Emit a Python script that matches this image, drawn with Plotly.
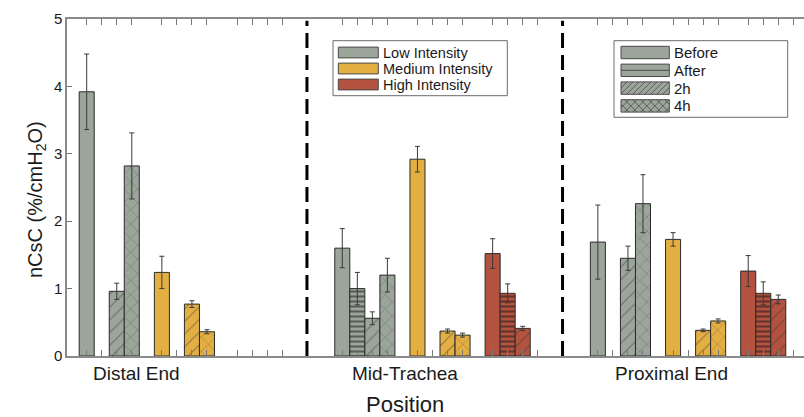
import plotly.graph_objects as go

# ---------------- data ----------------
positions = ["Distal End", "Mid-Trachea", "Proximal End"]
intensities = ["Low Intensity", "Medium Intensity", "High Intensity"]
times = ["Before", "After", "2h", "4h"]

# values[position][time]
low_vals = [[3.92, None, 0.96, 2.82], [1.60, 1.00, 0.56, 1.20], [1.69, None, 1.45, 2.26]]
low_err = [[0.56, None, 0.12, 0.49], [0.29, 0.24, 0.095, 0.25], [0.55, None, 0.18, 0.43]]
med_vals = [[1.24, None, 0.77, 0.36], [2.92, None, 0.37, 0.31], [1.73, None, 0.38, 0.52]]
med_err = [[0.24, None, 0.05, 0.03], [0.19, None, 0.03, 0.03], [0.10, None, 0.02, 0.03]]
high_vals = [[None, None, None, None], [1.52, 0.93, 0.41, None], [1.26, 0.93, 0.84, None]]
high_err = [[None, None, None, None], [0.22, 0.14, 0.03, None], [0.23, 0.17, 0.065, None]]

y_ticks = [0, 1, 2, 3, 4, 5]

# ---------------- style ----------------
FONT = "Liberation Sans, Arial, Helvetica, sans-serif"
TXT = "#1a1a1a"
colors = ["#9ba59a", "#e3af43", "#b2523f"]
patterns = [
    dict(shape=""),
    dict(shape="-", size=5, solidity=0.42, fgcolor="#151515"),
    dict(shape="/", size=9, solidity=0.11, fgcolor="#333333"),
    dict(shape="x", size=10, solidity=0.09, fgcolor="#333333"),
]
GROUP_STRIDE = 17   # slots per position group
INT_STRIDE = 5      # slots per intensity group (4 bars + 1 gap)

W, H = 804, 417
ML, MR, MT, MB = 67, 0, 19, 61
PW, PH = W - ML - MR, H - MT - MB

def px(x):
    return (x - ML) / PW

def py(y):
    return (H - MB - y) / PH

all_vals = [low_vals, med_vals, high_vals]
all_errs = [low_err, med_err, high_err]

fig = go.Figure()
for i, name in enumerate(intensities):
    for t, tname in enumerate(times):
        xs = [p * GROUP_STRIDE + i * INT_STRIDE + t for p in range(len(positions))]
        ys = [all_vals[i][p][t] for p in range(len(positions))]
        es = [all_errs[i][p][t] for p in range(len(positions))]
        fig.add_trace(go.Bar(
            x=xs, y=ys, width=1.0,
            name=f"{name} {tname}", showlegend=False,
            marker=dict(color=colors[i], line=dict(color="#2b2b2b", width=1),
                        pattern=patterns[t]),
            error_y=dict(type="data", array=es, visible=True, color="#3a3a3a",
                         thickness=1, width=2.5),
        ))

slot_ticks = [p * GROUP_STRIDE + i * INT_STRIDE + t
              for p in range(len(positions)) for i in range(3) for t in range(4)]

fig.update_layout(
    width=W, height=H,
    margin=dict(l=ML, r=MR, t=MT, b=MB),
    paper_bgcolor="white", plot_bgcolor="white",
    barmode="overlay",
    font=dict(family=FONT, color=TXT),
    showlegend=False,
    xaxis=dict(range=[-1.31, 47.71], tickvals=slot_ticks, showticklabels=False,
               ticks="inside", ticklen=6, tickcolor="#7a7a7a", tickwidth=1,
               showline=True, linecolor="#8a8a8a", linewidth=1.5, mirror="ticks",
               showgrid=False, zeroline=False),
    yaxis=dict(range=[0, 5], tickvals=y_ticks, ticktext=[str(v) for v in y_ticks],
               ticks="inside", ticklen=5, tickcolor="#7a7a7a",
               showline=True, linecolor="#8a8a8a", linewidth=1.5, mirror=False,
               showgrid=False, zeroline=False,
               tickfont=dict(size=15, family=FONT, color=TXT)),
)

# separators between positions
for p in range(1, len(positions)):
    xs = p * GROUP_STRIDE - 2.35
    fig.add_shape(type="line", xref="x", yref="paper", x0=xs, x1=xs, y0=0, y1=0.995,
                  line=dict(color="black", width=3, dash="15px,7px"))

# category labels and axis titles
label_x = [3.31, 21.16, 38.9]
for lx, lab in zip(label_x, positions):
    fig.add_annotation(x=lx, y=py(373), xref="x", yref="paper", text=lab,
                       xanchor="center", yanchor="middle",
                       showarrow=False, font=dict(size=19, family=FONT, color=TXT))
fig.add_annotation(x=label_x[1], y=py(404), xref="x", yref="paper", text="Position",
                   xanchor="center", yanchor="middle",
                   showarrow=False, font=dict(size=22, family=FONT, color=TXT))
fig.add_annotation(x=px(36), y=py(200), xref="paper", yref="paper",
                   text="nCsC (%/cmH<sub>2</sub>O)", textangle=-90,
                   xanchor="center", yanchor="middle",
                   showarrow=False, font=dict(size=20, family=FONT, color=TXT))

# ---------------- manual legends ----------------
def hatch_path(x0, y0, x1, y1, step, kind):
    w, h = x1 - x0, y1 - y0
    segs = []
    d = -h
    while d < w:
        lo, hi = max(0, -d), min(h, w - d)
        if hi > lo:
            if kind in ("/", "x"):
                segs.append(((x0 + d + lo, y1 - lo), (x0 + d + hi, y1 - hi)))
            if kind in ("\\", "x"):
                segs.append(((x0 + d + lo, y0 + lo), (x0 + d + hi, y0 + hi)))
        d += step
    return " ".join(f"M{px(a[0]):.5f},{py(a[1]):.5f} L{px(b[0]):.5f},{py(b[1]):.5f}"
                    for a, b in segs)

def rect(x0, y0, x1, y1, fill, line_color, lw):
    fig.add_shape(type="rect", xref="paper", yref="paper",
                  x0=px(x0), x1=px(x1), y0=py(y1), y1=py(y0),
                  fillcolor=fill, line=dict(color=line_color, width=lw))

def legend_text(x, y, text, size=15):
    fig.add_annotation(x=px(x), y=py(y), xref="paper", yref="paper", text=text,
                       showarrow=False, xanchor="left", yanchor="middle",
                       borderpad=0,
                       font=dict(size=size, family=FONT, color=TXT))

# intensity legend
rect(333, 40.7, 507.3, 95.7, "white", "#6a6a6a", 1)
for k, (name, c) in enumerate(zip(intensities, colors)):
    cy = 52.5 + 16 * k
    rect(338.3, cy - 5.4, 378.3, cy + 5.4, c, "#4a4a4a", 1)
    legend_text(381.5, cy, name, size=14.5)

# time legend
rect(614, 40.7, 787.7, 117.3, "white", "#6a6a6a", 1)
for k, tname in enumerate(times):
    cy = 52.5 + 17.8 * k
    x0, x1, y0, y1 = 621, 669.3, cy - 6.2, cy + 6.2
    rect(x0, y0, x1, y1, colors[0], "#4a4a4a", 1)
    if tname == "After":
        fig.add_shape(type="line", xref="paper", yref="paper", x0=px(x0), x1=px(x1),
                      y0=py(cy), y1=py(cy), line=dict(color="#4a4a4a", width=1))
    elif tname == "2h":
        fig.add_shape(type="path", xref="paper", yref="paper",
                      path=hatch_path(x0, y0, x1, y1, 6, "/"),
                      line=dict(color="#4a4a4a", width=0.8))
    elif tname == "4h":
        fig.add_shape(type="path", xref="paper", yref="paper",
                      path=hatch_path(x0, y0, x1, y1, 8, "x"),
                      line=dict(color="#4a4a4a", width=0.8))
    legend_text(672.5, cy, tname)

fig.write_html("out.html", config={"displayModeBar": False},
               post_script="document.body.style.margin='0';document.body.style.overflow='hidden';")
